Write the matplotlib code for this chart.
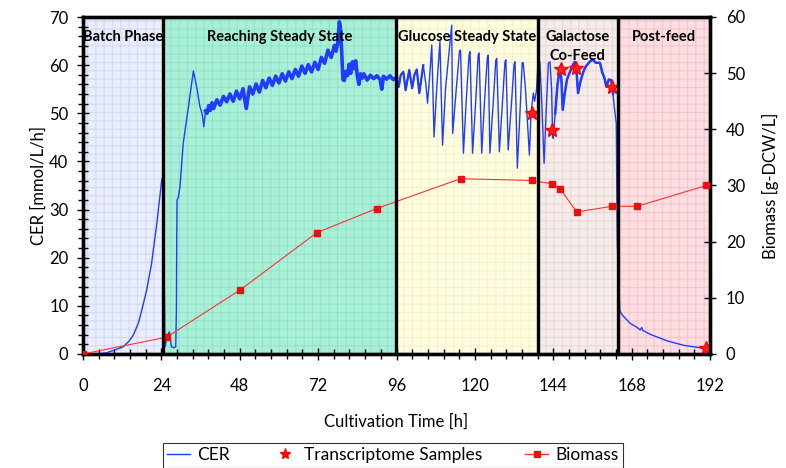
import matplotlib
matplotlib.use("Agg")
import matplotlib.pyplot as plt
from matplotlib.patches import Rectangle
from matplotlib.lines import Line2D
from matplotlib.ticker import MultipleLocator
import numpy as np

plt.rcParams['font.family'] = ['Lato', 'DejaVu Sans']

# ---------------- data ----------------
phase_names = ["Batch Phase", "Reaching Steady State", "Glucose Steady State",
               "Galactose\nCo-Feed", "Post-feed"]
phase_bounds = [0, 24.5, 95.8, 139.2, 163.9, 192]
phase_colors = ["#e9edfc", "#acefd9", "#fffde2", "#f6ecea", "#fcdfe3"]
phase_hatch = ["#d4dbf8", "#8fe6c8", "#f6f2c8", "#ead9d6", "#f7c6cd"]

cer_time = [0, 4, 7, 8.3, 10, 12.3, 14, 15.4, 17, 18, 19.5, 21, 22.6, 24.1, 24.5,
            25.1, 25.8, 26.4, 26.8, 27.1, 27.9, 28.4, 28.6, 28.7, 28.8, 29.2, 29.7, 30.7,
            32.3, 33.8, 34.8, 35.8, 36.5, 37.0, 37.5,
            38, 38.5, 39, 39.5, 40, 41, 42, 43, 44, 45, 46, 47, 48, 49, 50, 51, 52, 53,
            54, 55, 56, 57, 58, 59, 60, 61, 62, 63, 64, 65, 66, 67, 68, 69, 70, 71, 72,
            73, 74, 75, 76, 77, 77.5, 78, 78.5, 78.8, 79.2, 79.6, 80, 80.5, 81, 81.5,
            82, 82.5, 83, 83.5, 84, 84.5, 85, 85.5, 86, 87, 88, 89, 90, 91, 91.5, 92,
            93, 94, 95, 96,
            96.7, 97.3, 98.1, 98.8, 99.9, 100.8, 101.5, 102.2, 103, 104.2, 105, 105.5,
            106.2, 106.8, 107.5, 108.3, 109.3, 110.1, 111, 112.3, 112.9, 113.2, 114.3,
            115.3, 115.6, 116.5, 117.3, 118.2, 118.5, 119.3, 120.3, 121, 121.3, 122.1,
            123, 123.8, 124.1, 124.6, 125.6, 126.4, 126.7, 127.5, 128.4, 129.2, 129.5,
            130.2, 131.2, 132, 132.3, 133.0, 133.8, 134.5, 134.8, 135.5, 136.7, 137.2,
            137.9, 138.3, 138.9, 139.3,
            139.9, 140.5, 141.2, 141.8, 142.5, 143, 143.5, 143.8, 144.0, 144.6, 145.3,
            146.1, 146.5, 146.9, 147.5, 148.2, 149.1, 150, 150.6, 151.2, 151.6, 152.3,
            153.2, 154, 155.2, 156, 157, 158.3, 159, 159.6, 160.3, 161, 161.8, 162.3,
            162.8, 163.3, 163.6,
            164.4, 165, 167.5, 169.5, 170.6, 171.1, 171.4, 174, 176.7, 179, 181.8, 184,
            186.9, 189, 190.5]
cer_value = [0, 0, 0.2, 0.5, 0.9, 1.5, 2.6, 3.9, 6.5, 9.1, 13.3, 18.8, 27.1, 36.1, 37,
             1.5, 3.6, 4.6, 2.9, 1.5, 1.3, 1.5, 9.1, 23.7, 32, 32.5, 34.8, 43.8,
             51.4, 58.8, 55.5, 51.4, 49.8, 47.2, 50.5,
             50.0, 51.6, 50.6, 52.2, 51.0, 52.8, 51.7, 53.5, 52.4, 54.0, 52.5, 54.6, 53.0,
             55.1, 51.0, 55.5, 54.0, 56.1, 54.4, 56.8, 55.3, 57.3, 55.8, 57.7, 56.3, 58.2,
             56.7, 58.6, 57.2, 59.1, 57.7, 59.8, 58.3, 60.1, 58.6, 60.6, 59.1, 61.6, 60.4,
             63.1, 61.6, 64.1, 62.9, 64.6, 69.0, 68.0, 63.0, 57.0, 56.8, 58.7, 57.8, 60.2,
             58.3, 60.7, 59.3, 60.9, 57.8, 56.0, 58.2, 57.3, 58.2, 56.9, 57.9, 57.2, 57.8,
             57.0, 55.0, 57.7, 57.1, 57.8, 57.0, 57.4,
             55.5, 58.0, 58.6, 54.8, 59.0, 55.2, 58.0, 59.1, 54.2, 60.0, 56.0, 52.1,
             58.0, 64.2, 45.1, 55.0, 64.9, 43.4, 55.0, 64.0, 68.3, 45.8, 55.0,
             63.0, 63.1, 41.7, 52.0, 62.0, 62.8, 41.7, 53.0, 62.0, 62.5, 41.7,
             53.0, 61.5, 62.1, 41.7, 52.0, 61.0, 61.4, 42.0, 52.0, 60.6, 61.1,
             42.4, 52.0, 60.2, 60.7, 38.6, 50.0, 60.5, 60.5, 55.0, 41.3, 50.0,
             54.2, 52.5, 55.0, 60.0,
             60.7, 52.0, 39.6, 50.0, 60.4, 60.7, 55.0, 45.1, 44.8, 50.0, 56.0,
             59.7, 57.0, 50.7, 54.0, 57.0, 58.6, 60.0, 60.7, 58.0, 54.2, 56.5,
             58.6, 59.8, 60.7, 61.2, 60.5, 60.5, 58.5, 57.5, 55.5, 57.0, 56.9, 54.0,
             50.7, 47.9, 23.0,
             9.0, 8.2, 6.4, 5.6, 5.0, 5.5, 4.9, 4.0, 3.3, 2.7, 2.2, 1.8,
             1.5, 1.3, 1.1]

sample_time = [137.4, 143.7, 146.3, 151.0, 162.1, 190.8]
sample_cer = [50.1, 46.6, 59.3, 59.4, 55.4, 1.2]

biomass_time = [0, 25.6, 48.1, 71.6, 89.9, 115.6, 137.4, 143.7, 146.1, 151.2, 162.1, 169.7, 190.9]
biomass_value = [0, 3.0, 11.4, 21.6, 25.9, 31.2, 30.9, 30.3, 29.4, 25.3, 26.3, 26.3, 30.0]

x_ticks = [0, 24, 48, 72, 96, 120, 144, 168, 192]

# ---------------- figure ----------------
W, H = 786, 468
fig = plt.figure(figsize=(W / 100, H / 100), dpi=100)
ax = fig.add_axes([83 / W, 1 - 354 / H, (710 - 83) / W, (354 - 17) / H])
ax2 = ax.twinx()

ax.set_xlim(0, 192)
ax.set_ylim(0, 70)
ax2.set_ylim(0, 60)

plt.rcParams['hatch.linewidth'] = 0.8
for i, name in enumerate(phase_names):
    x0, x1 = phase_bounds[i], phase_bounds[i + 1]
    ax.add_patch(Rectangle((x0, 0), x1 - x0, 70, facecolor=phase_colors[i],
                           edgecolor=phase_hatch[i], hatch='++', lw=0, zorder=0))
    ax.text((x0 + x1) / 2, 67.3, name, ha='center', va='top',
            fontsize=10.5, fontweight='bold', zorder=6, linespacing=1.45)

blue = '#1f3cff'
t = np.array(cer_time)
v = np.array(cer_value)
ax.plot(t, v, color=blue, lw=1.0, zorder=3)
# noisy stretches drawn as a thicker band, as in the reference
for lo, hi, w in [(37.5, 96.0, 2.6), (144.6, 162.3, 1.8), (96.0, 104.2, 1.6)]:
    m = (t >= lo) & (t <= hi)
    ax.plot(t[m], v[m], color=blue, lw=w, zorder=3, solid_joinstyle='round')

ax.plot(sample_time, sample_cer, linestyle='none', marker='*', markersize=10,
        color='#ff2020', markeredgecolor='#ff0000', zorder=5)
ax2.plot(biomass_time, biomass_value, color='#ff3030', lw=0.8, marker='s',
         markersize=4, markerfacecolor='#e81010', markeredgecolor='#e81010', zorder=4)

for b in phase_bounds[1:-1]:
    ax2.axvline(b, color='black', lw=2.4, zorder=7)

for a in (ax, ax2):
    for s in a.spines.values():
        s.set_linewidth(2.4)
        s.set_color('black')
ax2.patch.set_visible(False)

ax.set_xticks(x_ticks)
ax.xaxis.set_minor_locator(MultipleLocator(4.8))
ax.yaxis.set_major_locator(MultipleLocator(10))
ax.yaxis.set_minor_locator(MultipleLocator(2))
ax2.yaxis.set_major_locator(MultipleLocator(10))

ax.tick_params(axis='x', which='major', direction='inout', length=9, width=1, labelsize=12, pad=13)
ax.tick_params(axis='x', which='minor', direction='inout', length=7, width=1)
ax.tick_params(axis='y', which='major', direction='inout', length=9, width=1, labelsize=12, pad=6)
ax.tick_params(axis='y', which='minor', direction='inout', length=7, width=1)
ax2.tick_params(axis='y', which='major', direction='inout', length=9, width=1, labelsize=12, pad=7)

ax.set_xlabel("Cultivation Time [h]", fontsize=12, labelpad=14)
ax.set_ylabel("CER [mmol/L/h]", fontsize=12, labelpad=2)
ax2.set_ylabel("Biomass [g-DCW/L]", fontsize=12, labelpad=12)

handles = [Line2D([], [], color=blue, lw=1.0),
           Line2D([], [], color='#ff0000', marker='*', linestyle='none', markersize=8),
           Line2D([], [], color='#ff3030', lw=1.0, marker='s', markersize=4,
                  markerfacecolor='#e81010', markeredgecolor='#e81010')]
leg = fig.legend(handles, ["CER", "Transcriptome Samples", "Biomass"], ncol=3,
                 loc='upper center', bbox_to_anchor=(393 / W, 1 - 443 / H),
                 fontsize=12.5, frameon=True, fancybox=False, edgecolor='black',
                 handlelength=1.3, handletextpad=0.45, columnspacing=2.5,
                 borderpad=0.25, borderaxespad=0)
leg.get_frame().set_linewidth(0.8)

fig.savefig("out.png", dpi=100)
